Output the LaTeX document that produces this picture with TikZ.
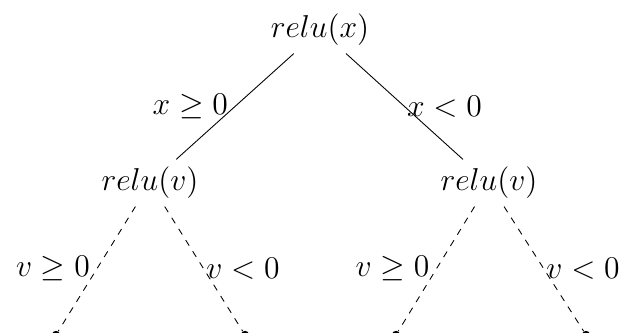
\documentclass[tikz,border=0pt]{standalone}
\usepackage{amsmath}
\usetikzlibrary{positioning}
\tikzset{
  cond/.style={font=\fontsize{14}{16}\selectfont},
  leaf/.style={circle,fill,inner sep=0pt,minimum size=1.3mm}
}

\begin{document}
\begin{tikzpicture}
  \useasboundingbox (0,0) rectangle (10.016,5.328);
  \node[cond] (root) at (5.12,4.848) {$relu(x)$};
  \node[cond] (vl) at (2.40,2.40) {$relu(v)$};
  \node[cond] (vr) at (7.824,2.40) {$relu(v)$};
  \node[leaf] (l1) at (0.896,-0.03) {};
  \node[leaf] (l2) at (3.92,-0.03) {};
  \node[leaf] (l3) at (6.336,-0.03) {};
  \node[leaf] (l4) at (9.376,-0.03) {};
  \draw (root)--(vl) node[cond,midway,left,inner sep=3pt] {$x\geq0$};
  \draw (root)--(vr) node[cond,midway,right,inner sep=1pt] {$x<0$};
  \foreach \p/\a/\b in {vl/l1/l2,vr/l3/l4}{
    \draw[dashed] (\p)--(\a) node[cond,midway,left,inner sep=3pt] {$v\geq0$};
    \draw[dashed] (\p)--(\b) node[cond,midway,right,inner sep=1pt] {$v<0$};
  }
\end{tikzpicture}
\end{document}
